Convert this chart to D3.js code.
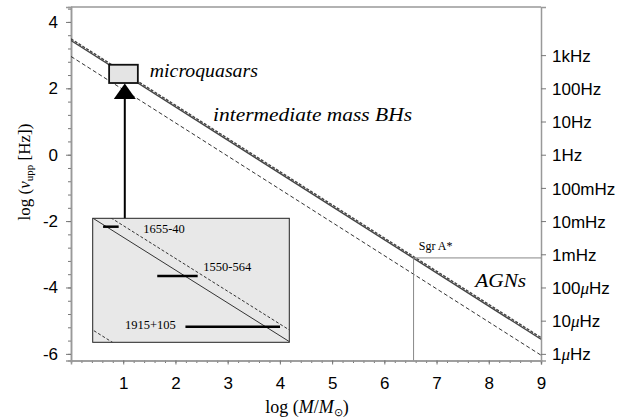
<!DOCTYPE html>
<html><head><meta charset="utf-8">
<script src="https://cdn.jsdelivr.net/npm/d3@7"></script>
<style>
html,body{margin:0;padding:0;background:#fff;}
svg{display:block;}
.tick text{font-family:"Liberation Sans",Arial,sans-serif;font-size:17px;fill:#000;}
</style></head>
<body><svg id="chart" width="618" height="419"></svg>
<script>
// ---- data ----
const massTicks = [1, 2, 3, 4, 5, 6, 7, 8, 9];
const freqTicks = [-6, -4, -2, 0, 2, 4];
const rightTickValues = [3, 2, 1, 0, -1, -2, -3, -4, -5, -6];
const rightTickNums = ["1k", "100", "10", "1", "100m", "10m", "1m", "100", "10", "1"];
const rightTickMicro = [false, false, false, false, false, false, false, true, true, true];
// log(nu) lines vs log(M): [logM, logNu] endpoints
const solidLine = [[0, 3.44], [9, -5.56]];
const dashedUpperLine = [[0, 3.49], [9, -5.51]];
const dashedLowerLine = [[0, 2.96], [9, -6.04]];
// Sgr A*
const sgrMass = 6.56;
const sgrFreq = -3.11;
// microquasar box (log M range, log nu range)
const mqMass = [0.75, 1.28];
const mqFreq = [2.157, 2.689];
const arrowMass = 1.03;
// microquasar sources (inset)
const sourceNames = ["1655-40", "1550-564", "1915+105"];
const sourceMassMin = [0.778, 0.924, 1.0];
const sourceMassMax = [0.82, 1.033, 1.255];
const sourceFreq = [2.653, 2.441, 2.224];
const sourceLabelMass = [0.886, 1.048, 0.837];
const sourceLabelFreq = [2.626, 2.465, 2.214];

// ---- layout ----
const svg = d3.select("#chart");
const x = d3.scaleLinear([0, 9], [71, 541]);
const y = d3.scaleLinear([-6.2, 4.45], [360.5, 7]);
const xi = d3.scaleLinear(mqMass, [92.7, 289.3]);
const yi = d3.scaleLinear(mqFreq, [342.3, 218.3]);

const axisColor = "#999";
const serif = "'Liberation Serif','Times New Roman',serif";

svg.append("defs").append("clipPath").attr("id", "plotClip")
  .append("rect").attr("x", x(0)).attr("y", y(4.45)).attr("width", x(9) - x(0)).attr("height", y(-6.2) - y(4.45));
svg.select("defs").append("clipPath").attr("id", "insetClip")
  .append("rect").attr("x", xi(mqMass[0])).attr("y", yi(mqFreq[1]))
  .attr("width", xi(mqMass[1]) - xi(mqMass[0])).attr("height", yi(mqFreq[0]) - yi(mqFreq[1]));

// minor ticks
const leftMinor = d3.range(-6, 4.41, 0.4).map(v => +v.toFixed(2));
const bottomMinor = d3.range(0, 9.01, 0.2).map(v => +v.toFixed(2));

const gLeftMinor = svg.append("g").attr("transform", `translate(${x(0)},0)`)
  .call(d3.axisLeft(y).tickValues(leftMinor).tickSize(3).tickFormat(""));
const gBottomMinor = svg.append("g").attr("transform", `translate(0,${y(-6.2)})`)
  .call(d3.axisBottom(x).tickValues(bottomMinor).tickSize(2.5).tickFormat(""));

const gLeft = svg.append("g").attr("transform", `translate(${x(0)},0)`)
  .call(d3.axisLeft(y).tickValues(freqTicks).tickSize(5).tickPadding(8).tickFormat(d => d));
const gBottom = svg.append("g").attr("transform", `translate(0,${y(-6.2)})`)
  .call(d3.axisBottom(x).tickValues(massTicks).tickSize(4).tickPadding(12).tickFormat(d => d));
const gRight = svg.append("g").attr("transform", `translate(${x(9)},0)`)
  .call(d3.axisRight(y).tickValues(rightTickValues).tickSize(5).tickPadding(6).tickFormat(""));

[gLeftMinor, gBottomMinor, gLeft, gBottom, gRight].forEach(g => {
  g.selectAll(".domain").attr("stroke", axisColor).attr("stroke-width", 1.5);
  g.selectAll(".tick line").attr("stroke", "#777");
});

// right tick labels with italic mu
gRight.selectAll(".tick").each(function(d, i) {
  const idx = rightTickValues.indexOf(d);
  const t = d3.select(this).append("text").attr("x", 11).attr("dy", "0.36em")
    .attr("text-anchor", "start");
  t.append("tspan").text(rightTickNums[idx]);
  if (rightTickMicro[idx]) {
    t.append("tspan").attr("font-family", serif).attr("font-style", "italic").text("μ");
  }
  t.append("tspan").text("Hz");
});

// top border
svg.append("line").attr("x1", x(0)).attr("x2", x(9)).attr("y1", y(4.45)).attr("y2", y(4.45))
  .attr("stroke", axisColor).attr("stroke-width", 1.5);

// main lines
const line = d3.line().x(d => x(d[0])).y(d => y(d[1]));
const plot = svg.append("g").attr("clip-path", "url(#plotClip)");
plot.append("path").attr("d", line(dashedLowerLine)).attr("fill", "none")
  .attr("stroke", "#333").attr("stroke-width", 1).attr("stroke-dasharray", "4,2.5");
plot.append("path").attr("d", line(solidLine)).attr("fill", "none")
  .attr("stroke", "#444").attr("stroke-width", 1.4);
plot.append("path").attr("d", line(dashedUpperLine)).attr("fill", "none")
  .attr("stroke", "#444").attr("stroke-width", 1.4).attr("stroke-dasharray", "3,1.5");

// Sgr A* guide lines
plot.append("line").attr("x1", x(sgrMass)).attr("x2", x(sgrMass))
  .attr("y1", y(sgrFreq)).attr("y2", y(-6.2)).attr("stroke", "#888").attr("stroke-width", 1);
plot.append("line").attr("x1", x(sgrMass)).attr("x2", x(9))
  .attr("y1", y(sgrFreq)).attr("y2", y(sgrFreq)).attr("stroke", "#888").attr("stroke-width", 1);

// microquasar box
svg.append("rect").attr("x", x(0.73)).attr("y", y(2.71))
  .attr("width", x(1.28) - x(0.73)).attr("height", y(2.16) - y(2.71))
  .attr("fill", "#e4e4e4").attr("stroke", "#111").attr("stroke-width", 1.8);

// arrow
const ax = x(arrowMass);
const tipY = y(2.16) + 0.5;
svg.append("line").attr("x1", ax).attr("x2", ax).attr("y1", yi(mqFreq[1])).attr("y2", tipY + 14)
  .attr("stroke", "#000").attr("stroke-width", 2);
svg.append("path").attr("d", `M${ax},${tipY} L${ax - 11},${tipY + 15.5} L${ax + 11},${tipY + 15.5} Z`)
  .attr("fill", "#000");

// inset
svg.append("rect").attr("x", xi(mqMass[0])).attr("y", yi(mqFreq[1]))
  .attr("width", xi(mqMass[1]) - xi(mqMass[0])).attr("height", yi(mqFreq[0]) - yi(mqFreq[1]))
  .attr("fill", "#e8e8e8").attr("stroke", "#222").attr("stroke-width", 1);
const lineI = d3.line().x(d => xi(d[0])).y(d => yi(d[1]));
const inset = svg.append("g").attr("clip-path", "url(#insetClip)");
inset.append("path").attr("d", lineI(solidLine)).attr("fill", "none").attr("stroke", "#333").attr("stroke-width", 1);
inset.append("path").attr("d", lineI(dashedUpperLine)).attr("fill", "none").attr("stroke", "#333")
  .attr("stroke-width", 1).attr("stroke-dasharray", "3,2");
inset.append("path").attr("d", lineI(dashedLowerLine)).attr("fill", "none").attr("stroke", "#333")
  .attr("stroke-width", 1).attr("stroke-dasharray", "3,2");
sourceNames.forEach((n, i) => {
  svg.append("line").attr("x1", xi(sourceMassMin[i])).attr("x2", xi(sourceMassMax[i]))
    .attr("y1", yi(sourceFreq[i])).attr("y2", yi(sourceFreq[i]))
    .attr("stroke", "#000").attr("stroke-width", 2.5);
  svg.append("text").attr("x", xi(sourceLabelMass[i])).attr("y", yi(sourceLabelFreq[i]))
    .attr("font-family", serif).attr("font-size", 12.5).text(n);
});

// annotations
function italicLabel(txt, m, f, size, len) {
  svg.append("text").attr("x", x(m)).attr("y", y(f)).attr("font-family", serif)
    .attr("font-style", "italic").attr("font-size", size)
    .attr("textLength", len).attr("lengthAdjust", "spacingAndGlyphs").text(txt);
}
italicLabel("microquasars", 1.51, 2.33, 18, 108);
italicLabel("intermediate mass BHs", 2.72, 1.02, 18, 199);
italicLabel("AGNs", 7.74, -4.0, 19, 51);
svg.append("text").attr("x", x(6.66)).attr("y", y(-2.87)).attr("font-family", serif)
  .attr("font-size", 12).text("Sgr A*");

// axis titles
const xl = svg.append("text").attr("x", 307).attr("y", 413).attr("text-anchor", "middle")
  .attr("font-family", serif).attr("font-size", 18);
xl.append("tspan").text("log (");
xl.append("tspan").attr("font-style", "italic").text("M");
xl.append("tspan").text("/");
xl.append("tspan").attr("font-style", "italic").text("M");
xl.append("tspan").attr("font-size", 11).attr("dy", 3).text("⊙");
xl.append("tspan").attr("dy", -3).text(")");

const yl = svg.append("text").attr("transform", "translate(30,172) rotate(-90)").attr("text-anchor", "middle")
  .attr("font-family", serif).attr("font-size", 17);
yl.append("tspan").text("log (");
yl.append("tspan").attr("font-style", "italic").text("ν");
yl.append("tspan").attr("font-size", 11).attr("dy", 3).text("upp");
yl.append("tspan").attr("dy", -3).text(" [Hz])");
</script></body></html>
